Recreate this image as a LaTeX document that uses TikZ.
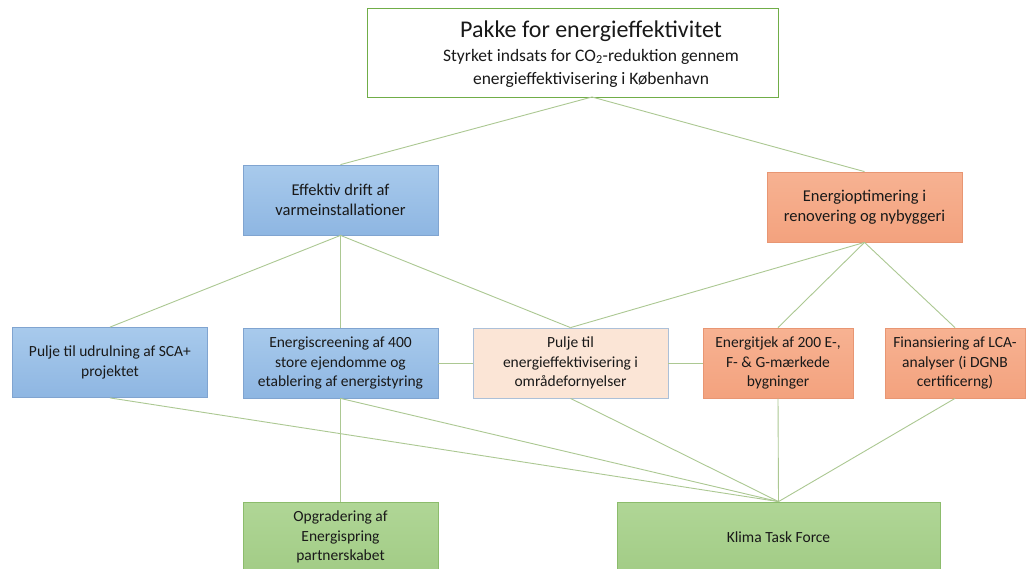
\documentclass[tikz,border=0pt]{standalone}
\usepackage{fontspec}
\setmainfont{Carlito}
\definecolor{txt}{RGB}{25,25,25}
\definecolor{blueA}{RGB}{168,202,236}
\definecolor{blueB}{RGB}{142,182,226}
\definecolor{blueD}{RGB}{128,164,208}
\definecolor{orA}{RGB}{247,178,146}
\definecolor{orB}{RGB}{243,162,126}
\definecolor{orD}{RGB}{232,150,115}
\definecolor{peach}{RGB}{251,229,214}
\definecolor{peachD}{RGB}{172,192,216}
\definecolor{grA}{RGB}{176,214,150}
\definecolor{grB}{RGB}{162,204,134}
\definecolor{grD}{RGB}{140,188,108}
\definecolor{topD}{RGB}{112,173,71}
\definecolor{link}{RGB}{172,200,146}
\tikzset{
  box/.style={draw, line width=0.8pt, minimum height=70pt, inner sep=2pt, align=center,
    text=txt, font=\fontsize{15.5}{19.5}\selectfont},
  midfont/.style={font=\fontsize{16.5}{20}\selectfont},
  bluebox/.style={box, draw=blueD, top color=blueA, bottom color=blueB, minimum width=195pt},
  orbox/.style={box, draw=orD, top color=orA, bottom color=orB},
  peachbox/.style={box, draw=peachD, fill=peach, minimum width=195pt},
  grbox/.style={box, draw=grD, top color=grA, bottom color=grB},
  topframe/.style={draw=topD, line width=0.9pt, fill=white, minimum width=411pt, minimum height=89pt, inner sep=0pt},
  toptext/.style={align=center, text=txt, inner sep=0pt, font=\fontsize{17.5}{23}\selectfont},
  link/.style={draw=link, line width=0.9pt}
}
\begin{document}
\begin{tikzpicture}[x=1pt,y=-1pt]
\clip (0,0) rectangle (1027,568);
\fill[white] (0,0) rectangle (1027,568);

\node[topframe] (topbox) at (572.5,52.5) {};
\node[toptext] (top) at (591,54) {{\fontsize{24}{26}\selectfont Pakke for energieffektivitet}\\[1pt]
  Styrket indsats for CO\textsubscript{2}-reduktion gennem\\
  energieffektivisering i København};
\coordinate (topc) at (592,97);

\node[bluebox, midfont] (eff) at (340.5,200) {Effektiv drift af\\varmeinstallationer};
\node[orbox, midfont, minimum width=195pt] (opt) at (864.5,207) {Energioptimering i\\renovering og nybyggeri};

\node[bluebox] (sca) at (110,362.5) {Pulje til udrulning af SCA+\\projektet};
\node[bluebox] (scr) at (340.5,363) {Energiscreening af 400\\store ejendomme og\\etablering af energistyring};
\node[peachbox] (pul) at (570.5,363) {Pulje til\\energieffektivisering i\\områdefornyelser};
\node[orbox, minimum width=150pt] (tjek) at (778,363) {Energitjek af 200 E-,\\F- \& G-mærkede\\bygninger};
\node[orbox, minimum width=140pt] (fin) at (955,363) {Finansiering af LCA-\\analyser (i DGNB\\certificerng)};

\node[grbox, minimum width=195pt] (opg) at (340.5,537) {Opgradering af\\Energispring\\partnerskabet};
\node[grbox, minimum width=323pt] (klima) at (778.5,537) {Klima Task Force};

\draw[link] (topc) -- (eff.north);
\draw[link] (topc) -- (opt.north);
\draw[link] (eff.south) -- (sca.north);
\draw[link] (eff.south) -- (scr.north);
\draw[link] (eff.south) -- (pul.north);
\draw[link] (opt.south) -- (pul.north);
\draw[link] (opt.south) -- (tjek.north);
\draw[link] (opt.south) -- (fin.north);
\draw[link] (scr.east) -- (pul.west);
\draw[link] (pul.east) -- (tjek.west);
\draw[link] (scr.south) -- (opg.north);
\draw[link] (sca.south) -- (klima.north);
\draw[link] (scr.south) -- (klima.north);
\draw[link] (pul.south) -- (klima.north);
\draw[link] (tjek.south) -- (klima.north);
\draw[link] (fin.south) -- (klima.north);
\end{tikzpicture}
\end{document}
